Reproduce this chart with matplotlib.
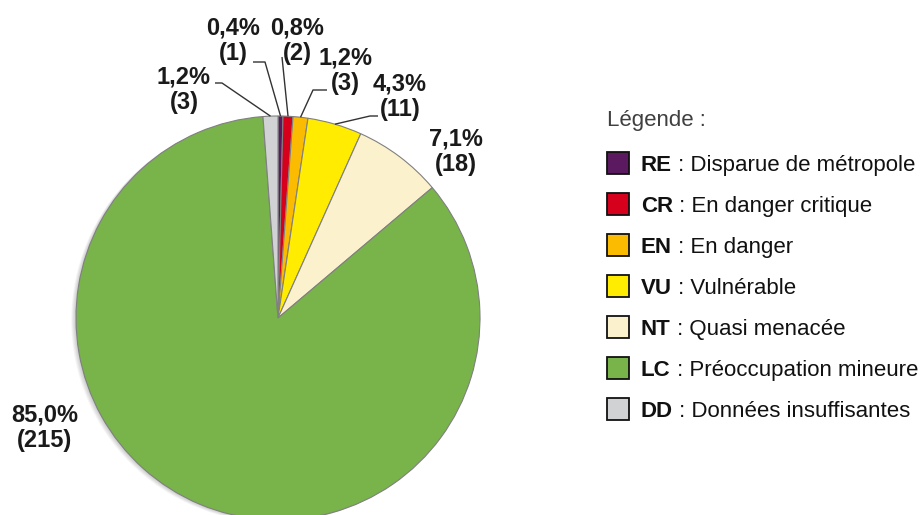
import numpy as np
import matplotlib
matplotlib.use("Agg")
import matplotlib.pyplot as plt
from matplotlib.patches import Rectangle, Circle

plt.rcParams['font.family'] = ['Liberation Sans', 'DejaVu Sans']

# ---- data ----
codes = ["RE", "CR", "EN", "VU", "NT", "LC", "DD"]
descriptions = ["Disparue de métropole", "En danger critique", "En danger",
                "Vulnérable", "Quasi menacée", "Préoccupation mineure",
                "Données insuffisantes"]
counts = [1, 2, 3, 11, 18, 215, 3]
colors = ["#5b1a5f", "#d6001c", "#fbbb00", "#ffec00", "#fbf2cd", "#78b44a", "#d1d2d4"]

W, H = 923, 515
fig = plt.figure(figsize=(W / 100, H / 100), dpi=100)
ax = fig.add_axes([0, 0, 1, 1])

def Y(y):
    return H - y

cx, cy, R = 278, Y(318), 202

# soft shadow
for i in range(1, 7):
    ax.add_patch(Circle((cx - i * 0.8, cy - i * 0.4), R, color="#000000",
                        alpha=0.035, lw=0, zorder=0))

wedges, _ = ax.pie(counts, colors=colors, startangle=90, counterclock=False,
                   center=(cx, cy), radius=R,
                   wedgeprops=dict(edgecolor="#808080", linewidth=0.8, zorder=2))

total = sum(counts)
# label layout (pixel coords): block centre, leader start point(s)
label_pos = {
    "RE": (233, 41), "CR": (297, 41), "EN": (345, 71), "VU": (400, 97),
    "NT": (456, 152), "LC": (45, 428), "DD": (184, 90),
}
leaders = {
    "RE": [(253, 62), (265, 62)],
    "CR": [(282, 57)],
    "EN": [(327, 90), (313, 90)],
    "VU": [(378, 116), (370, 116)],
    "DD": [(215, 83), (222, 83)],
}

for w, code, n in zip(wedges, codes, counts):
    pct = n / total * 100
    txt = f"{pct:.1f}".replace(".", ",") + f"%\n({n})"
    lx, ly = label_pos[code]
    ax.text(lx, Y(ly), txt, ha="center", va="center", fontsize=17,
            fontweight="bold", color="#1a1a1a", linespacing=1.12, zorder=5)
    if code in leaders:
        mid = np.deg2rad((w.theta1 + w.theta2) / 2)
        ex, ey = cx + R * np.cos(mid), cy + R * np.sin(mid)
        pts = [(px, Y(py)) for px, py in leaders[code]] + [(ex, ey)]
        xs, ys = zip(*pts)
        ax.plot(xs, ys, color="#333333", lw=1.0, zorder=4, solid_capstyle="butt")

# legend
FS = 16
ax.text(607, Y(126), "Légende :", ha="left", va="baseline", fontsize=FS,
        color="#404040")
sq = 22
bold_texts = []
for i, (code, desc, col) in enumerate(zip(codes, descriptions, colors)):
    yc = 163 + i * 41
    ax.add_patch(Rectangle((607, Y(yc) - sq / 2), sq, sq, facecolor=col,
                           edgecolor="#111111", lw=1.3, zorder=3))
    t = ax.text(641, Y(yc + 8), code, ha="left", va="baseline", fontsize=FS,
                fontweight="bold", color="#111111")
    bold_texts.append((t, desc, yc))

ax.set_xlim(0, W)
ax.set_ylim(0, H)
ax.set_aspect("equal")
ax.axis("off")

fig.canvas.draw()
r = fig.canvas.get_renderer()
for t, desc, yc in bold_texts:
    bb = t.get_window_extent(r)
    x1 = ax.transData.inverted().transform((bb.x1, bb.y0))[0]
    ax.text(x1, Y(yc + 8), " : " + desc, ha="left", va="baseline", fontsize=FS,
            color="#111111")

fig.savefig("out.png", dpi=100)
